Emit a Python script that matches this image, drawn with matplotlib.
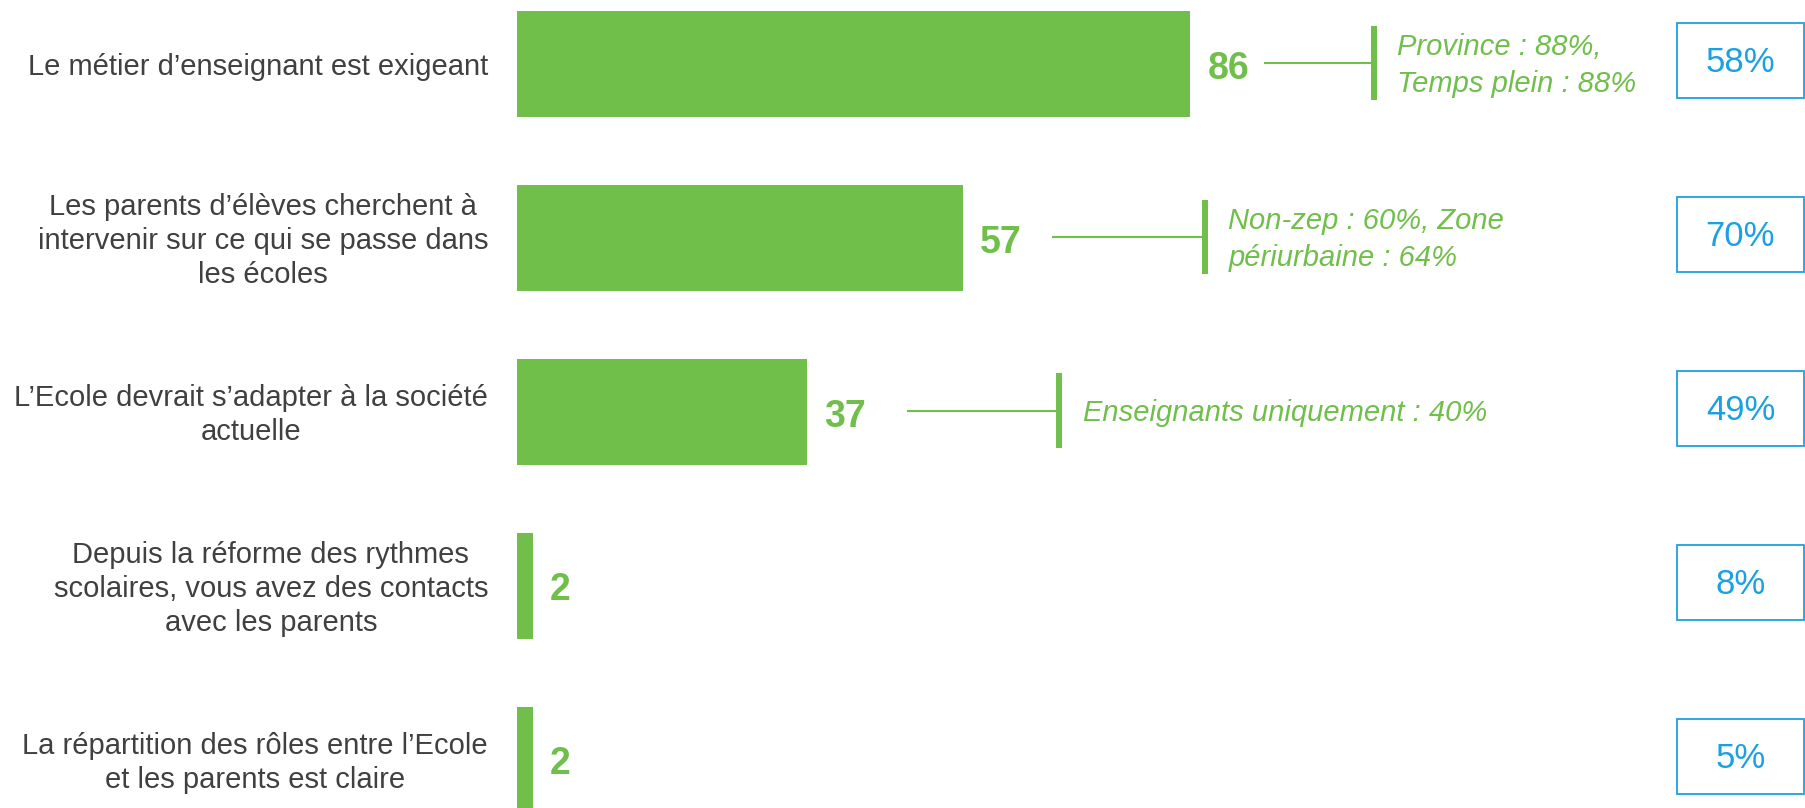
import matplotlib
matplotlib.use('Agg')
import matplotlib.pyplot as plt
from matplotlib.patches import Rectangle

# ---------------- data ----------------
categories = [
    "Le métier d’enseignant est exigeant",
    "Les parents d’élèves cherchent à\nintervenir sur ce qui se passe dans\nles écoles",
    "L’Ecole devrait s’adapter à la société\nactuelle",
    "Depuis la réforme des rythmes\nscolaires, vous avez des contacts\navec les parents",
    "La répartition des rôles entre l’Ecole\net les parents est claire",
]
values = [86, 57, 37, 2, 2]
notes = [
    "Province : 88%,\nTemps plein : 88%",
    "Non-zep : 60%, Zone\npériurbaine : 64%",
    "Enseignants uniquement : 40%",
    "",
    "",
]
comparison = ["58%", "70%", "49%", "8%", "5%"]

# ---------------- layout ----------------
note_line_start = [95.4, 68.3, 49.8, None, None]
note_bar_x = [109.5, 87.9, 69.3, None, None]

GREEN = '#70BF4B'
BLUE = '#1BA1E2'
GREY = '#404040'
FONT = 'Liberation Sans'

W, H = 1806, 808
ppu_x = 7.826
ppu_y = 174.0
x0_px = 517

fig = plt.figure(figsize=(W / 100, H / 100), dpi=100)
ax = fig.add_axes([0, 0, 1, 1])
xmin = -x0_px / ppu_x
ax.set_xlim(xmin, xmin + W / ppu_x)
ax.set_ylim(4 + (H - 760) / ppu_y, -64.5 / ppu_y)
ax.axis('off')

ypos = list(range(len(values)))
ax.barh(ypos, values, height=0.61, color=GREEN)

for i, (cat, v) in enumerate(zip(categories, values)):
    ax.text(-3.7, i + 0.015, cat, ha='right', va='center', multialignment='center',
            fontsize=21, color=GREY, family=FONT, linespacing=1.28)
    ax.text(v + 2.2, i + 0.025, str(v), ha='left', va='center', fontsize=27,
            fontweight='bold', color=GREEN, family=FONT)
    if notes[i]:
        yc = i - 0.008
        ax.plot([note_line_start[i], note_bar_x[i]], [yc, yc],
                color=GREEN, lw=1.5, solid_capstyle='butt')
        ax.plot([note_bar_x[i], note_bar_x[i]], [yc - 0.215, yc + 0.215],
                color=GREEN, lw=4.3, solid_capstyle='butt')
        ax.text(note_bar_x[i] + 3.0, yc + 0.015, notes[i], ha='left', va='center',
                fontsize=21, style='italic', color=GREEN, family=FONT,
                linespacing=1.4)
    bx = (1677 - x0_px) / ppu_x
    bw = 127 / ppu_x
    bh = 75 / ppu_y
    cy = i - 0.023
    ax.add_patch(Rectangle((bx, cy - bh / 2), bw, bh, fill=False,
                           edgecolor=BLUE, lw=1.3))
    ax.text(bx + bw / 2, cy + 0.012, comparison[i], ha='center', va='center',
            fontsize=25, color=BLUE, family=FONT)

fig.savefig('out.png', dpi=100)
